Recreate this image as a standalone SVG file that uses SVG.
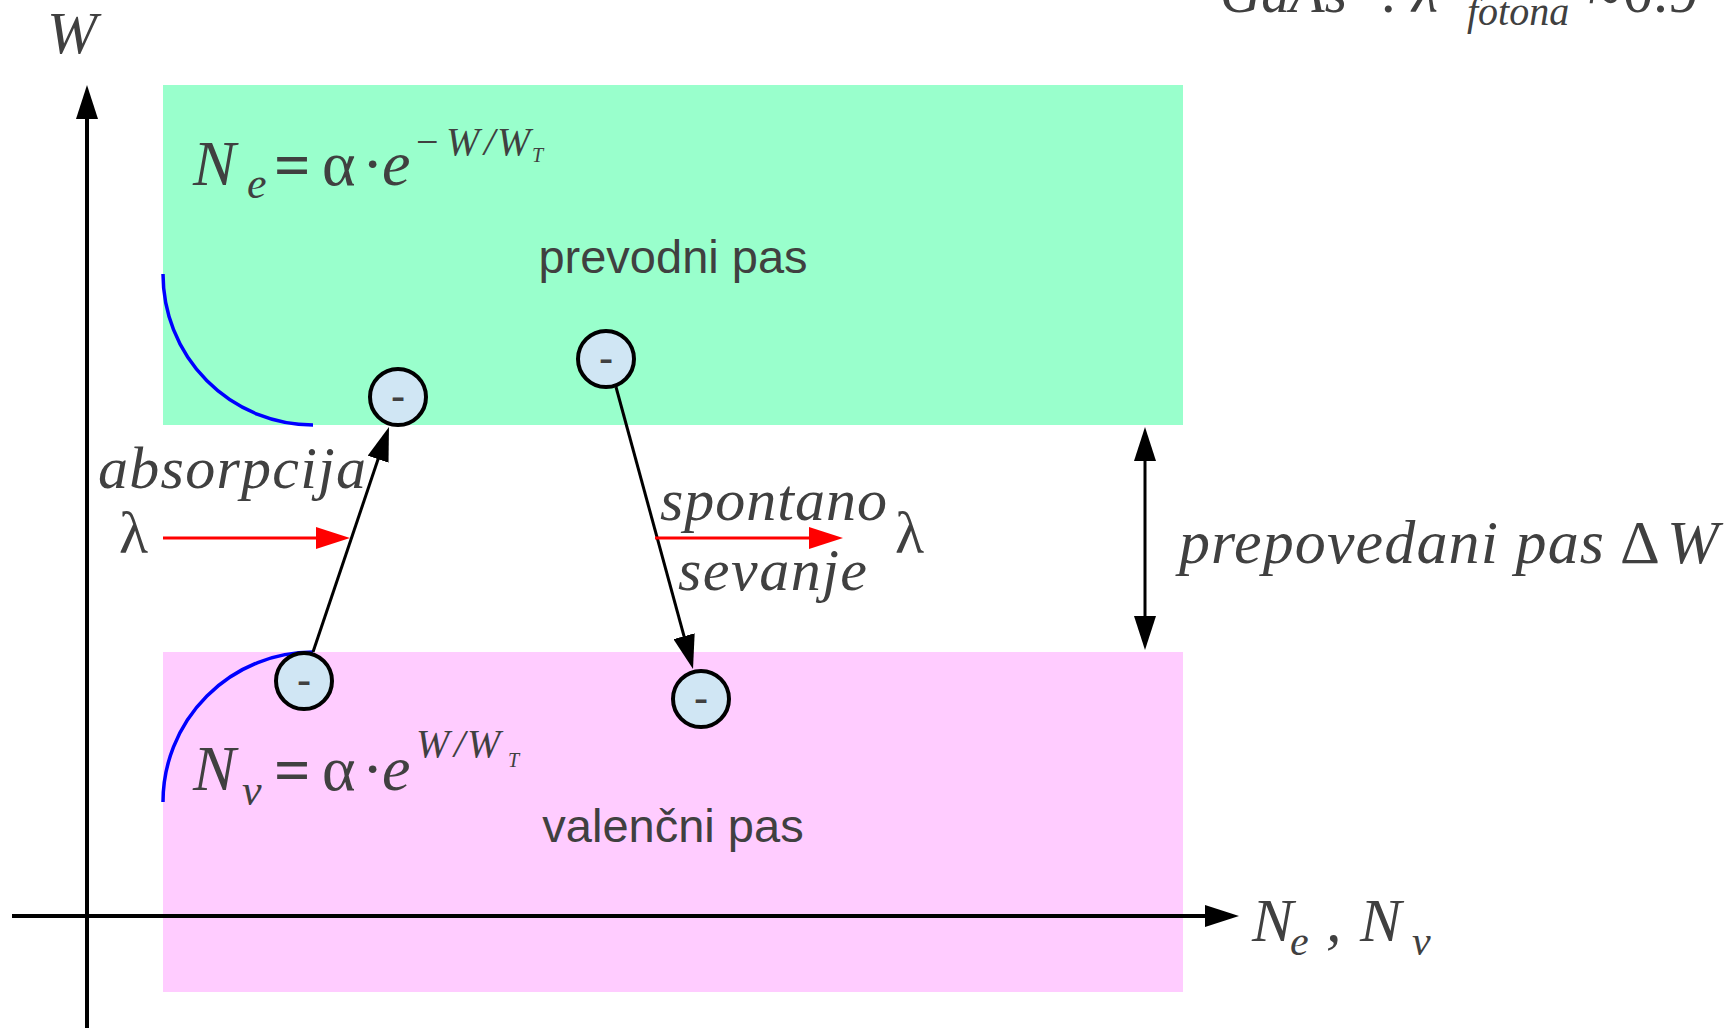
<svg xmlns="http://www.w3.org/2000/svg" width="1732" height="1028" viewBox="0 0 1732 1028">
<style>
.math{font-family:"Liberation Serif","Times New Roman",serif;font-style:italic;fill:#404040}
.up{font-family:"Liberation Serif","Times New Roman",serif;font-style:normal;fill:#404040}
.eq{font-family:"Liberation Serif","Times New Roman",serif;font-style:normal;font-weight:bold;fill:#404040}
.sans{font-family:"Liberation Sans",Arial,sans-serif;fill:#404040}
.e{fill:#d0e6f4;stroke:#000;stroke-width:4}
.minus{font-family:"Liberation Sans",Arial,sans-serif;font-size:44px;fill:#404040;text-anchor:middle}
.blk{fill:none;stroke:#000;stroke-width:3}
.red{fill:none;stroke:#ff0000;stroke-width:3}
.arc{fill:none;stroke:#0000ff;stroke-width:3.5}
</style>
<defs>
<marker id="ah" markerUnits="userSpaceOnUse" markerWidth="34" markerHeight="22" refX="26" refY="11" orient="auto-start-reverse" viewBox="0 0 34 22"><path d="M0,0 L34,11 L0,22 z" fill="#000"/></marker>
<marker id="ahr" markerUnits="userSpaceOnUse" markerWidth="34" markerHeight="22" refX="26" refY="11" orient="auto" viewBox="0 0 34 22"><path d="M0,0 L34,11 L0,22 z" fill="#ff0000"/></marker>
</defs>

<g id="prevodni-pas">
<rect x="163" y="85" width="1020" height="340" fill="#99ffcc"/>
<text class="sans" x="673" y="273" font-size="47" text-anchor="middle">prevodni pas</text>
</g>
<g id="valencni-pas">
<rect x="163" y="652" width="1020" height="340" fill="#ffccff"/>
<text class="sans" x="673" y="842" font-size="47" text-anchor="middle">valenčni pas</text>
</g>

<g id="curves">
<path class="arc" d="M163,274 A150,151 0 0 0 313,425"/>
<path class="arc" d="M163,802 A150,150 0 0 1 313,652"/>
</g>

<g id="connectors">
<path d="M87,1028 L87,93" fill="none" stroke="#000" stroke-width="4" marker-end="url(#ah)"/>
<path d="M12,916 L1231,916" fill="none" stroke="#000" stroke-width="4" marker-end="url(#ah)"/>
<path class="blk" d="M313,652 L386.4,434.6" marker-end="url(#ah)"/>
<path class="blk" d="M616,387 L690.9,661.3" marker-end="url(#ah)"/>
<path class="blk" d="M1145,642 L1145,435" marker-start="url(#ah)" marker-end="url(#ah)"/>
<path class="red" d="M163,538 L342,538" marker-end="url(#ahr)"/>
<path class="red" d="M655,538 L835,538" marker-end="url(#ahr)"/>
</g>

<g id="electron-1"><circle class="e" cx="398" cy="397" r="28"/><text class="minus" x="398" y="411">-</text></g>
<g id="electron-2"><circle class="e" cx="606" cy="359" r="28"/><text class="minus" x="606" y="373">-</text></g>
<g id="electron-3"><circle class="e" cx="304" cy="681" r="28"/><text class="minus" x="304" y="695">-</text></g>
<g id="electron-4"><circle class="e" cx="701" cy="699" r="28"/><text class="minus" x="701" y="713">-</text></g>

<g id="eq-ne">
<text class="math" x="193" y="185" font-size="64">N</text>
<text class="math" x="247" y="198" font-size="44">e</text>
<text class="eq" x="274" y="187" font-size="64">=</text>
<text class="up" x="322" y="185" font-size="64">α</text>
<text class="up" x="362" y="185" font-size="64">·</text>
<text class="math" x="382" y="185" font-size="64">e</text>
<text class="up" x="416" y="155" font-size="40">−</text>
<text class="math" x="446" y="155" font-size="40">W</text>
<text class="math" x="484" y="155" font-size="40">/</text>
<text class="math" x="497" y="155" font-size="40">W</text>
<text class="math" x="532" y="162" font-size="20">T</text>
</g>

<g id="eq-nv">
<text class="math" x="193" y="790" font-size="64">N</text>
<text class="math" x="242" y="805" font-size="44">v</text>
<text class="eq" x="274" y="792" font-size="64">=</text>
<text class="up" x="322" y="790" font-size="64">α</text>
<text class="up" x="362" y="790" font-size="64">·</text>
<text class="math" x="382" y="790" font-size="64">e</text>
<text class="math" x="416" y="757" font-size="40">W</text>
<text class="math" x="454" y="757" font-size="40">/</text>
<text class="math" x="467" y="757" font-size="40">W</text>
<text class="math" x="508" y="767" font-size="20">T</text>
</g>

<g id="labels">
<text class="math" x="47" y="53" font-size="60">W</text>
<text class="math" x="1252" y="941" font-size="62">N</text>
<text class="math" x="1290" y="955" font-size="42">e</text>
<text class="math" x="1326" y="941" font-size="62">,</text>
<text class="math" x="1360" y="941" font-size="62">N</text>
<text class="math" x="1412" y="955" font-size="42">v</text>
<text class="math" x="98" y="488" font-size="60" textLength="268" lengthAdjust="spacing">absorpcija</text>
<text class="up" x="119" y="553" font-size="60">λ</text>
<text class="math" x="660" y="520" font-size="60" textLength="227" lengthAdjust="spacing">spontano</text>
<text class="math" x="678" y="590" font-size="60" textLength="189" lengthAdjust="spacing">sevanje</text>
<text class="up" x="895" y="553" font-size="60">λ</text>
<text class="math" x="1179" y="563" font-size="62" textLength="425" lengthAdjust="spacing">prepovedani pas</text>
<text class="up" x="1620" y="563" font-size="62">Δ</text>
<text class="math" x="1667" y="563" font-size="62">W</text>
</g>

<g id="title">
<text class="math" x="1220" y="12" font-size="60" textLength="127" lengthAdjust="spacingAndGlyphs">GaAs</text>
<text class="up" x="1380" y="12" font-size="60">:</text>
<text class="math" x="1412" y="12" font-size="60">λ</text>
<text class="math" x="1467" y="25" font-size="40">fotona</text>
<text class="up" x="1588" y="12" font-size="60">≈</text>
<text class="up" x="1623" y="12" font-size="60">0.9</text>
</g>
</svg>
